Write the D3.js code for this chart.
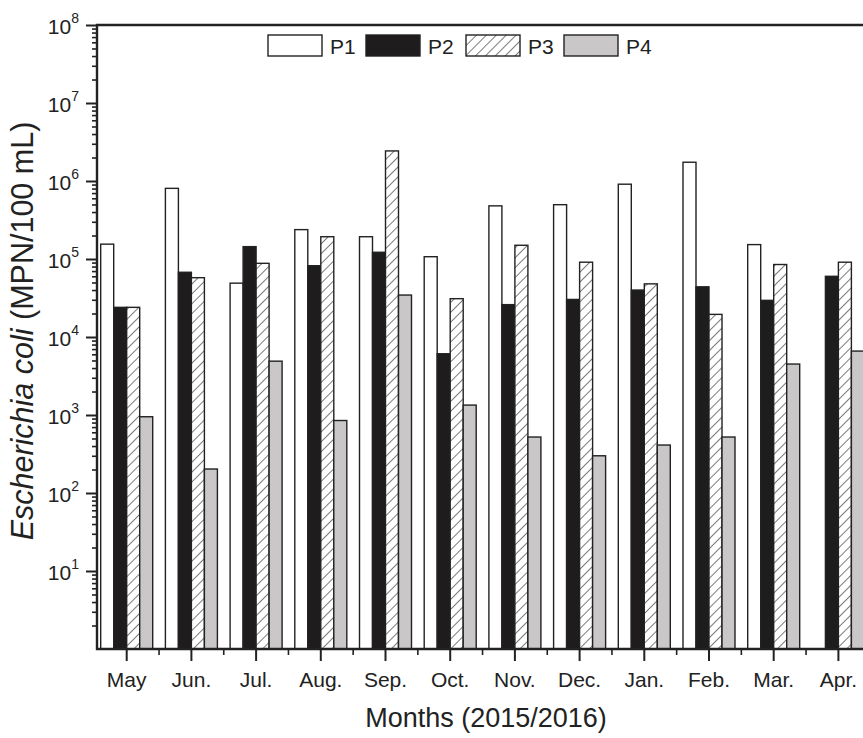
<!DOCTYPE html>
<html>
<head>
<meta charset="utf-8">
<script src="https://cdn.jsdelivr.net/npm/d3@7"></script>
<style>
  body { margin: 0; background: #fff; }
  svg { display: block; font-family: "Liberation Sans", Arial, sans-serif; }
</style>
</head>
<body>
<div id="graphic"></div>
<script>
// data (MPN/100 mL), null = no bar
var months = ["May", "Jun.", "Jul.", "Aug.", "Sep.", "Oct.", "Nov.", "Dec.", "Jan.", "Feb.", "Mar.", "Apr."];
var series = ["P1", "P2", "P3", "P4"];
var p1 = [155000, 805000, 49000, 238000, 193000, 107000, 480000, 497000, 910000, 1740000, 153000, null];
var p2 = [24000, 67600, 144000, 82000, 122000, 6100, 26000, 30300, 40000, 44000, 29500, 60000];
var p3 = [24000, 57600, 88000, 193000, 2430000, 31000, 150000, 91000, 48000, 19500, 85000, 91000];
var p4 = [950, 203, 4900, 850, 34500, 1340, 522, 300, 412, 522, 4500, 6600];
var yTicks = [1e1, 1e2, 1e3, 1e4, 1e5, 1e6, 1e7, 1e8];

var W = 863, H = 738;
var margin = {left: 97, top: 25, bottom: 649};

var svg = d3.select("#graphic").append("svg")
  .attr("width", W).attr("height", H);

var defs = svg.append("defs");
var pat = defs.append("pattern")
  .attr("id", "hatch")
  .attr("patternUnits", "userSpaceOnUse")
  .attr("width", 7).attr("height", 7)
  .attr("patternTransform", "rotate(45)");
pat.append("rect").attr("width", 7).attr("height", 7).attr("fill", "#fff");
pat.append("line").attr("x1", 0).attr("y1", 0).attr("x2", 0).attr("y2", 7)
  .attr("stroke", "#333").attr("stroke-width", 1.3);

var fills = {P1: "#fff", P2: "#1e1c1c", P3: "url(#hatch)", P4: "#c9c7c7"};
var values = {P1: p1, P2: p2, P3: p3, P4: p4};

var x = d3.scaleBand()
  .domain(months)
  .range([94.35, 94.35 + 12 * 64.7])
  .padding(0);

var xs = d3.scaleBand()
  .domain(series)
  .range([x.bandwidth() / 2 - 26, x.bandwidth() / 2 + 26])
  .padding(0);

var y = d3.scaleLog()
  .domain([1, 1e8])
  .range([margin.bottom, margin.top]);

// bars
var rows = [];
months.forEach(function(m, i) {
  series.forEach(function(s) {
    if (values[s][i] != null) rows.push({month: m, s: s, v: values[s][i]});
  });
});

svg.append("g").selectAll("rect")
  .data(rows)
  .enter().append("rect")
  .attr("x", function(d) { return x(d.month) + xs(d.s); })
  .attr("y", function(d) { return y(d.v); })
  .attr("width", xs.bandwidth())
  .attr("height", function(d) { return margin.bottom - y(d.v); })
  .attr("fill", function(d) { return fills[d.s]; })
  .attr("stroke", "#222")
  .attr("stroke-width", 1.4);

// y axis: minor ticks
var minors = [];
for (var k = 0; k < 8; k++) {
  for (var j = 2; j <= 9; j++) minors.push(j * Math.pow(10, k));
}
svg.append("g")
  .attr("transform", "translate(" + margin.left + ",0)")
  .call(d3.axisLeft(y).tickValues(minors).tickSize(5).tickFormat(""))
  .call(function(g) { g.select(".domain").remove(); })
  .selectAll("line").attr("stroke", "#222").attr("stroke-width", 1.6);

var yAxis = svg.append("g")
  .attr("transform", "translate(" + margin.left + ",0)")
  .call(d3.axisLeft(y).tickValues(yTicks).tickSize(11).tickSizeOuter(0).tickFormat(""));
yAxis.select(".domain").remove();
yAxis.selectAll("line").attr("stroke", "#222").attr("stroke-width", 2);
yAxis.selectAll(".tick text").remove();
yAxis.selectAll(".tick").append("text")
  .attr("x", -18).attr("y", 8)
  .attr("text-anchor", "end")
  .attr("fill", "#222")
  .attr("font-size", 21)
  .each(function(d) {
    var t = d3.select(this);
    t.append("tspan").text("10");
    t.append("tspan").attr("dy", -11).attr("font-size", 14).text(Math.round(Math.log10(d)));
  });

// x axis
var xAxis = svg.append("g")
  .attr("transform", "translate(0," + margin.bottom + ")")
  .call(d3.axisBottom(x).tickSize(12).tickSizeOuter(0));
xAxis.select(".domain").remove();
xAxis.selectAll("line").attr("stroke", "#222").attr("stroke-width", 2);
xAxis.selectAll("text")
  .attr("font-size", 21).attr("fill", "#222").attr("y", 38).attr("dy", 0);

var minorX = months.slice(1).map(function(m) { return x(m); });
svg.append("g").selectAll("line")
  .data(minorX)
  .enter().append("line")
  .attr("x1", function(d) { return d; }).attr("x2", function(d) { return d; })
  .attr("y1", margin.bottom).attr("y2", margin.bottom + 6)
  .attr("stroke", "#222").attr("stroke-width", 1.6);

// frame (right side runs off the picture)
svg.append("path")
  .attr("d", "M" + (W + 20) + "," + margin.top + "H" + margin.left + "V" + margin.bottom + "H" + (W + 20))
  .attr("fill", "none").attr("stroke", "#222").attr("stroke-width", 2.4);

// legend
var legX = [268, 366, 466, 564];
var leg = svg.append("g").selectAll("g")
  .data(series)
  .enter().append("g")
  .attr("transform", function(d, i) { return "translate(" + legX[i] + ",35)"; });
leg.append("rect")
  .attr("width", 54).attr("height", 21)
  .attr("fill", function(d) { return fills[d]; })
  .attr("stroke", "#222").attr("stroke-width", 1.4);
leg.append("text")
  .attr("x", 62).attr("y", 19)
  .attr("font-size", 21).attr("fill", "#222")
  .text(function(d) { return d; });

// axis titles
svg.append("text")
  .attr("x", 486).attr("y", 727)
  .attr("text-anchor", "middle")
  .attr("font-size", 27).attr("fill", "#222")
  .text("Months (2015/2016)");

var yt = svg.append("text")
  .attr("transform", "translate(33,331) rotate(-90)")
  .attr("text-anchor", "middle")
  .attr("font-size", 30.5).attr("fill", "#222");
yt.append("tspan").attr("font-style", "italic").text("Escherichia coli");
yt.append("tspan").text(" (MPN/100 mL)");
</script>
</body>
</html>
